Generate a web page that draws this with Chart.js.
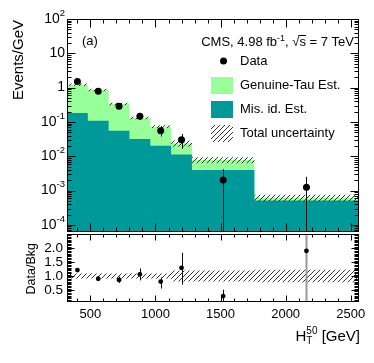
<!DOCTYPE html>
<html>
<head>
<meta charset="utf-8">
<script src="https://cdn.jsdelivr.net/npm/chart.js@4.4.1/dist/chart.umd.min.js"></script>
<style>
  body { margin: 0; background: #fff; }
  #wrap { position: relative; width: 374px; height: 363px; }
  canvas { position: absolute; left: 0; top: 0; }
</style>
</head>
<body>
<div id="wrap">
  <canvas id="mainChart" width="374" height="363"></canvas>
  <canvas id="ratioChart" width="374" height="363"></canvas>
</div>
<script>
// binning in HT50 (GeV)
const binEdges = [320, 480, 640, 800, 960, 1120, 1280, 1760, 2560];
const binCenters = [400, 560, 720, 880, 1040, 1200, 1520, 2160];

// background estimates, events/GeV
const misIdEst = [0.183, 0.109, 0.0557, 0.032, 0.0204, 0.0112, 0.0040, 0.00051];
const genuineTauEst = [1.037, 0.748, 0.279, 0.099, 0.0526, 0.0126, 0.0038, 0.00011];
const relUncertainty = [0.09, 0.09, 0.09, 0.09, 0.09, 0.2, 0.2, 0.22];

// observed data
const dataValues = [1.5, 0.78, 0.285, 0.146, 0.0557, 0.0305, 0.00204, 0.00124];
const dataErrLow = [1.40, 0.71, 0.243, 0.114, 0.0375, 0.0165, 0, 0];
const dataErrHigh = [1.60, 0.85, 0.327, 0.174, 0.075, 0.0445, 0.0042, 0.0025];

// data / background
const ratioValues = [1.21, 0.90, 0.86, 1.06, 0.80, 1.29, 0.28, 1.90];
const ratioErrLow = [1.14, 0.83, 0.75, 0.84, 0.55, 0.69, 0, 0];
const ratioErrHigh = [1.28, 0.97, 0.98, 1.27, 0.95, 1.83, 0.51, 4.0];

// axes
const logTicks = [1e-4, 1e-3, 1e-2, 1e-1, 1, 10, 100];
const logTickLabels = [["10", "-4"], ["10", "-3"], ["10", "-2"], ["10", "-1"], ["1", ""], ["10", ""], ["10", "2"]];
const ratioTicks = [0.5, 1.0, 1.5, 2.0];
const xTicks = [500, 1000, 1500, 2000, 2500];
const legendLabels = ["Data", "Genuine-Tau Est.", "Mis. id. Est.", "Total uncertainty"];

const FONT = "'Liberation Sans', Arial, Helvetica, sans-serif";
const teal = "#009999";
const lightGreen = "#99ff99";

const totalEst = misIdEst.map((v, i) => v + genuineTauEst[i]);
const totalUp = totalEst.map((v, i) => v * (1 + relUncertainty[i]));
const totalDown = totalEst.map((v, i) => v * (1 - relUncertainty[i]));
const ratioUp = relUncertainty.map(u => 1 + u);
const ratioDown = relUncertainty.map(u => 1 - u);

function stepPoints(values) {
  return binEdges.map((x, i) => ({ x, y: values[Math.min(i, values.length - 1)] }));
}

function makeHatch() {
  const c = document.createElement("canvas");
  c.width = 5; c.height = 5;
  const g = c.getContext("2d");
  g.strokeStyle = "#333"; g.lineWidth = 1;
  g.beginPath();
  g.moveTo(0, 5); g.lineTo(5, 0);
  g.moveTo(-1, 1); g.lineTo(1, -1);
  g.moveTo(4, 6); g.lineTo(6, 4);
  g.stroke();
  return g.createPattern(c, "repeat");
}
const hatch = makeHatch();

function histLine(values, color, fill) {
  return {
    type: "line", data: stepPoints(values), stepped: "before",
    borderWidth: 0, borderColor: "rgba(0,0,0,0)", backgroundColor: color,
    pointRadius: 0, fill
  };
}

function drawRuns(ctx, runs, right, baseline) {
  let w = 0;
  runs.forEach(r => { ctx.font = `${r[1]}px ${FONT}`; w += ctx.measureText(r[0]).width; });
  let x = right - w;
  const starts = [];
  ctx.textAlign = "left";
  ctx.textBaseline = "alphabetic";
  runs.forEach(r => {
    ctx.font = `${r[1]}px ${FONT}`;
    starts.push(x);
    ctx.fillText(r[0], x, baseline + r[2]);
    x += ctx.measureText(r[0]).width;
  });
  return starts;
}

function errorBars(after, low, high) {
  return {
    id: "errorBars",
    afterDatasetDraw(chart, args) {
      if (args.index !== after) return;
      const { ctx, chartArea: a } = chart;
      const xs = chart.scales.x, ys = chart.scales.y;
      ctx.save();
      ctx.beginPath();
      ctx.rect(a.left, a.top, a.right - a.left, a.bottom - a.top);
      ctx.clip();
      low.forEach((lo, i) => {
        const x = Math.round(xs.getPixelForValue(binCenters[i])) + 0.5;
        const yLo = lo > ys.min ? ys.getPixelForValue(lo) : a.bottom;
        const yHi = high[i] < ys.max ? ys.getPixelForValue(high[i]) : a.top;
        const full = lo <= ys.min && high[i] >= ys.max;
        ctx.strokeStyle = full ? "#999" : "#111";
        ctx.lineWidth = full ? 2 : 1;
        ctx.beginPath(); ctx.moveTo(x, yLo); ctx.lineTo(x, yHi); ctx.stroke();
      });
      ctx.restore();
    }
  };
}

function frameTicks(cfg) {
  return {
    id: "frameTicks",
    afterDraw(chart) {
      const { ctx, chartArea: a, scales: { x, y } } = chart;
      const L = Math.round(a.left) + 0.5, R = Math.round(a.right) - 0.5;
      const T = Math.round(a.top) + 0.5, B = Math.round(a.bottom) - 0.5;
      ctx.save();
      ctx.strokeStyle = "#000"; ctx.lineWidth = 1;
      ctx.beginPath();
      const yTick = (v, len) => {
        if (v < y.min || v > y.max) return;
        const p = Math.round(y.getPixelForValue(v)) + 0.5;
        ctx.moveTo(L, p); ctx.lineTo(L + len, p);
        ctx.moveTo(R, p); ctx.lineTo(R - len, p);
      };
      const xTick = (v, len) => {
        if (v <= x.min || v >= x.max) return;
        const p = Math.round(x.getPixelForValue(v)) + 0.5;
        ctx.moveTo(p, B); ctx.lineTo(p, B - len);
        ctx.moveTo(p, T); ctx.lineTo(p, T + len);
      };
      cfg.yMinor.forEach(v => yTick(v, cfg.yMinLen));
      cfg.yMajor.forEach(v => yTick(v, cfg.yMajLen));
      for (let v = 400; v < 2560; v += 100) xTick(v, v % 500 === 0 ? cfg.xMajLen : cfg.xMinLen);
      ctx.stroke();
      ctx.strokeRect(L, T, R - L, B - T);
      ctx.restore();
    }
  };
}

const logMinor = [];
for (let e = -5; e <= 1; e++) for (let k = 2; k <= 9; k++) logMinor.push(k * Math.pow(10, e));
const ratioMinor = [];
for (let v = 0.05; v < 2.5; v += 0.05) ratioMinor.push(Math.round(v * 100) / 100);

const mainLabels = {
  id: "mainLabels",
  afterDraw(chart) {
    const { ctx, scales: { y } } = chart;
    ctx.save();
    ctx.fillStyle = "#000";
    // log axis labels
    logTicks.forEach((v, i) => {
      const p = y.getPixelForValue(v);
      const [base, exp] = logTickLabels[i];
      ctx.font = `9.5px ${FONT}`;
      const we = exp ? ctx.measureText(exp).width : 0;
      ctx.textAlign = "right"; ctx.textBaseline = "middle";
      if (exp) ctx.fillText(exp, 65, p - 6);
      ctx.font = `14px ${FONT}`;
      ctx.fillText(base, 65 - we, p);
    });
    // y title
    ctx.save();
    ctx.translate(19, 20);
    ctx.rotate(-Math.PI / 2);
    ctx.font = `15px ${FONT}`;
    ctx.textAlign = "right"; ctx.textBaseline = "middle";
    ctx.fillText("Events/GeV", 0, 0);
    ctx.restore();
    // panel tag and CMS label
    ctx.font = `13px ${FONT}`;
    ctx.textAlign = "left"; ctx.textBaseline = "middle";
    ctx.fillText("(a)", 82, 41);
    const starts = drawRuns(ctx, [["CMS, 4.98 fb", 13, 0], ["-1", 9, -5], [", \u221As = 7 TeV", 13, 0]], 354, 45.5);
    ctx.font = `13px ${FONT}`;
    const sx = starts[2] + ctx.measureText(", \u221A").width;
    const sw = ctx.measureText("s").width;
    ctx.fillRect(sx - 1, 35, sw + 1, 1);
    // legend
    const rows = [61, 85, 109, 133];
    ctx.beginPath(); ctx.arc(223.5, rows[0], 3.5, 0, Math.PI * 2); ctx.fill();
    ctx.fillStyle = lightGreen; ctx.fillRect(211, rows[1] - 8, 22, 17);
    ctx.fillStyle = teal; ctx.fillRect(211, rows[2] - 8, 22, 17);
    ctx.fillStyle = hatch; ctx.fillRect(211, rows[3] - 8, 22, 17);
    ctx.fillStyle = "#000";
    ctx.font = `13px ${FONT}`;
    ctx.textAlign = "left"; ctx.textBaseline = "middle";
    legendLabels.forEach((t, i) => ctx.fillText(t, 240, rows[i]));
    ctx.restore();
  }
};

const ratioLabels = {
  id: "ratioLabels",
  afterDraw(chart) {
    const { ctx } = chart;
    ctx.save();
    ctx.fillStyle = "#000";
    ctx.save();
    ctx.translate(32, 243);
    ctx.rotate(-Math.PI / 2);
    ctx.font = `12.5px ${FONT}`;
    ctx.textAlign = "right"; ctx.textBaseline = "middle";
    ctx.fillText("Data/Bkg", 0, 0);
    ctx.restore();
    // H_T^50 [GeV]
    ctx.font = `15px ${FONT}`;
    const unitW = ctx.measureText(" [GeV]").width;
    ctx.font = `10px ${FONT}`;
    const scriptW = Math.max(ctx.measureText("50").width, ctx.measureText("T").width);
    ctx.font = `15px ${FONT}`;
    const hW = ctx.measureText("H").width;
    const right = 360, base = 341;
    let x = right - unitW - scriptW - hW;
    ctx.textAlign = "left"; ctx.textBaseline = "alphabetic";
    ctx.fillText("H", x, base);
    x += hW;
    ctx.font = `10px ${FONT}`;
    ctx.fillText("50", x, base - 7);
    ctx.fillText("T", x, base + 3);
    x += scriptW;
    ctx.font = `15px ${FONT}`;
    ctx.fillText(" [GeV]", x, base);
    ctx.restore();
  }
};

new Chart(document.getElementById("mainChart"), {
  type: "line",
  data: {
    datasets: [
      {
        type: "scatter", data: binCenters.map((x, i) => ({ x, y: dataValues[i] })),
        backgroundColor: "#000", borderColor: "#000", pointRadius: 3.5, pointBorderWidth: 0
      },
      histLine(totalUp, hatch, "+1"),
      histLine(totalDown, "rgba(0,0,0,0)", false),
      histLine(misIdEst, teal, "start"),
      histLine(totalEst, lightGreen, "start")
    ]
  },
  options: {
    responsive: false, animation: false, devicePixelRatio: 1,
    layout: { padding: { top: 19, left: 0, right: 15.5, bottom: 0 } },
    plugins: { legend: { display: false }, tooltip: { enabled: false } },
    scales: {
      x: {
        type: "linear", min: 320, max: 2560,
        grid: { display: false }, border: { display: false },
        ticks: { display: false },
        afterFit: s => { s.height = 131; }
      },
      y: {
        type: "logarithmic", min: 6.2e-5, max: 100,
        grid: { display: false }, border: { display: false },
        ticks: { display: false },
        afterFit: s => { s.width = 67; }
      }
    }
  },
  plugins: [
    errorBars(1, dataErrLow, dataErrHigh),
    frameTicks({ yMajor: logTicks, yMinor: logMinor, yMajLen: 8, yMinLen: 4, xMajLen: 8, xMinLen: 4 }),
    mainLabels
  ]
});

new Chart(document.getElementById("ratioChart"), {
  type: "line",
  data: {
    datasets: [
      {
        type: "scatter", data: binCenters.map((x, i) => ({ x, y: ratioValues[i] })),
        backgroundColor: "#000", borderColor: "#000", pointRadius: 2.4, pointBorderWidth: 0
      },
      histLine(ratioUp, hatch, "+1"),
      histLine(ratioDown, "rgba(0,0,0,0)", false)
    ]
  },
  options: {
    responsive: false, animation: false, devicePixelRatio: 1,
    layout: { padding: { top: 234, left: 0, right: 15.5, bottom: 0 } },
    plugins: { legend: { display: false }, tooltip: { enabled: false } },
    scales: {
      x: {
        type: "linear", min: 320, max: 2560,
        grid: { display: false, drawTicks: false }, border: { display: false },
        afterBuildTicks: s => { s.ticks = xTicks.map(value => ({ value })); },
        ticks: {
          color: "#000", font: { family: FONT, size: 13 }, padding: 5, autoSkip: false, maxRotation: 0,
          callback: v => String(v)
        },
        afterFit: s => { s.height = 61; }
      },
      y: {
        type: "linear", min: 0.07, max: 2.5,
        grid: { display: false, drawTicks: false }, border: { display: false },
        afterBuildTicks: s => { s.ticks = ratioTicks.map(value => ({ value })); },
        ticks: { color: "#000", font: { family: FONT, size: 13.5 }, padding: 4, callback: v => v.toFixed(1) },
        afterFit: s => { s.width = 67; }
      }
    }
  },
  plugins: [
    errorBars(1, ratioErrLow, ratioErrHigh),
    frameTicks({ yMajor: ratioTicks, yMinor: ratioMinor, yMajLen: 7, yMinLen: 4, xMajLen: 6, xMinLen: 3 }),
    ratioLabels
  ]
});
</script>
</body>
</html>
